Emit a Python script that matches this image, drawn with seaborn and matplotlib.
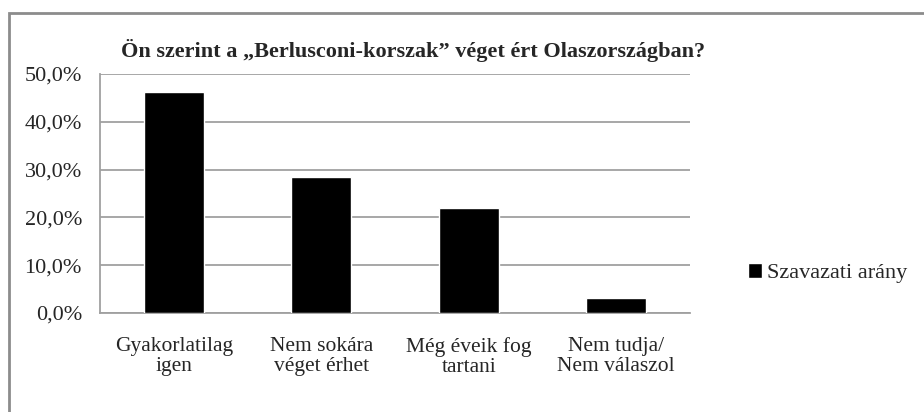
import matplotlib
matplotlib.use("Agg")
import matplotlib.pyplot as plt
import seaborn as sns
import pandas as pd
from matplotlib.patches import Rectangle
from matplotlib.ticker import FuncFormatter

categories = ["Gyakorlatilag\nigen", "Nem sokára\nvéget érhet", "Még éveik fog\ntartani", "Nem tudja/\nNem válaszol"]
values = [46.2, 28.5, 21.9, 3.1]
series_name = "Szavazati arány"
title = "Ön szerint a „Berlusconi-korszak” véget ért Olaszországban?"

sns.set_theme(style="white")
plt.rcParams["font.family"] = ["Liberation Serif", "DejaVu Serif"]

df = pd.DataFrame({"cat": categories, "val": values})

fig = plt.figure(figsize=(9.24, 4.12), dpi=100)
ax = fig.add_axes([100 / 924, 1 - 313 / 412, 590 / 924, 239 / 412])

sns.barplot(data=df, x="cat", y="val", color="black", width=0.41,
            label=series_name, saturation=1, ax=ax, zorder=3)

ax.set_ylim(0, 50)
ax.set_yticks([0, 10, 20, 30, 40, 50])
ax.yaxis.set_major_formatter(FuncFormatter(lambda v, p: f"{v:.1f}%".replace(".", ",")))
ax.grid(axis="y", color="#a0a0a0", linewidth=1.3, zorder=0)
ax.set_xlabel("")
ax.set_ylabel("")
for s in ["top", "right"]:
    ax.spines[s].set_visible(False)
for s in ["left", "bottom"]:
    ax.spines[s].set_color("#a0a0a0")
    ax.spines[s].set_linewidth(1.3)
ax.tick_params(axis="y", length=0, pad=13, labelsize=16)
ax.tick_params(axis="x", length=0, pad=17, labelsize=15.5)
for lbl in ax.get_xticklabels():
    lbl.set_linespacing(1.1)

fig.text(413 / 924, 1 - 50 / 412, title, ha="center", va="center",
         fontsize=16, fontweight="bold")

leg = ax.legend(loc="center left", bbox_to_anchor=(728 / 924, 1 - 273 / 412),
                bbox_transform=fig.transFigure, frameon=False, fontsize=16,
                handlelength=0.65, handleheight=0.65, handletextpad=0.2)

# outer chart frame (only top and left visible)
fig.patches.append(Rectangle((9 / 924, -0.1), 1.2, 1.1 - 13 / 412,
                             transform=fig.transFigure, fill=False,
                             edgecolor="#8c8c8c", linewidth=2))

fig.savefig("out.png", dpi=100)
